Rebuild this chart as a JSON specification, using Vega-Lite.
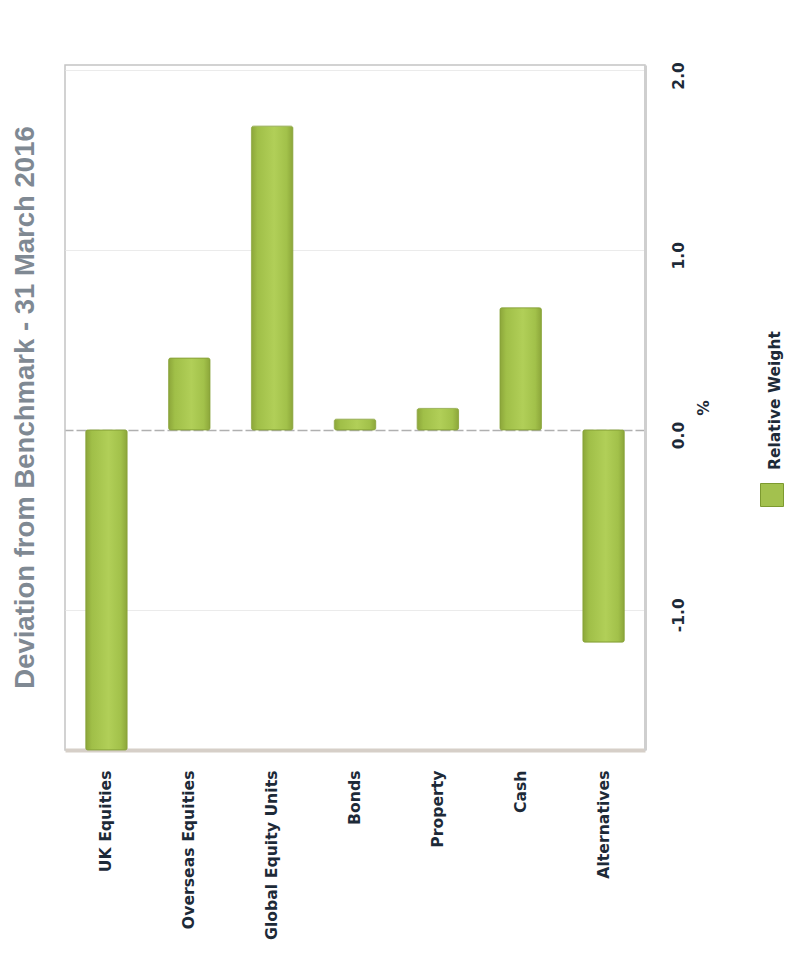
{
  "$schema": "https://vega.github.io/schema/vega-lite/v6.json",
  "width": 580,
  "height": 685,
  "autosize": {"type": "none"},
  "padding": {"left": 65, "top": 65, "right": 164, "bottom": 217},
  "background": "white",
  "title": {
    "text": "Deviation from Benchmark - 31 March 2016",
    "orient": "left",
    "anchor": "middle",
    "font": "Liberation Sans",
    "fontSize": 27.5,
    "fontWeight": "bold",
    "color": "#7f8993",
    "offset": 26
  },
  "data": {
    "values": [
      {"asset": "UK Equities", "weight": -1.78, "series": "Relative Weight"},
      {"asset": "Overseas Equities", "weight": 0.40, "series": "Relative Weight"},
      {"asset": "Global Equity Units", "weight": 1.69, "series": "Relative Weight"},
      {"asset": "Bonds", "weight": 0.06, "series": "Relative Weight"},
      {"asset": "Property", "weight": 0.12, "series": "Relative Weight"},
      {"asset": "Cash", "weight": 0.68, "series": "Relative Weight"},
      {"asset": "Alternatives", "weight": -1.18, "series": "Relative Weight"}
    ]
  },
  "encoding": {
    "x": {
      "field": "asset",
      "type": "nominal",
      "sort": null,
      "scale": {"paddingInner": 0.5, "paddingOuter": 0.25},
      "axis": {
        "orient": "bottom",
        "title": null,
        "labelAngle": -90,
        "labelAlign": "right",
        "labelBaseline": "middle",
        "labelPadding": 20,
        "labelFont": "DejaVu Sans",
        "labelFontWeight": "bold",
        "labelFontSize": 15.7,
        "labelColor": "#1d2a38",
        "labelLimit": 300,
        "ticks": false,
        "domainColor": "#d6cfc8",
        "domainWidth": 4,
        "grid": false
      }
    },
    "y": {
      "field": "weight",
      "type": "quantitative",
      "scale": {"domain": [-1.78, 2.03], "nice": false, "zero": false},
      "axis": {
        "orient": "right",
        "values": [-1, 0, 1, 2],
        "labelExpr": "datum.value < 0 ? '-' + format(-datum.value, '.1f') : format(datum.value, '.1f')",
        "title": "%",
        "labelAngle": -90,
        "labelAlign": "center",
        "labelBaseline": "top",
        "labelPadding": 26,
        "labelOffset": 5,
        "labelFlush": false,
        "labelOverlap": false,
        "labelBound": false,
        "labelFont": "DejaVu Sans",
        "labelFontWeight": "bold",
        "labelFontSize": 15.5,
        "labelColor": "#1d2a38",
        "ticks": false,
        "domainColor": "#cfcfcf",
        "domainWidth": 3,
        "grid": true,
        "gridColor": {"condition": {"test": "datum.value === 0", "value": "#b0b0b0"}, "value": "#ebebeb"},
        "gridDash": {"condition": {"test": "datum.value === 0", "value": [10, 3]}, "value": []},
        "gridWidth": {"condition": {"test": "datum.value === 0", "value": 1.5}, "value": 1},
        "titleAngle": -90,
        "titleAlign": "center",
        "titleBaseline": "top",
        "titlePadding": 10,
        "titleFont": "DejaVu Sans",
        "titleFontSize": 15.5,
        "titleFontWeight": "bold",
        "titleColor": "#1d2a38"
      }
    }
  },
  "layer": [
    {
      "mark": {
        "type": "bar",
        "stroke": "#89a33a",
        "strokeWidth": 0.8,
        "cornerRadius": 2,
        "color": {
          "gradient": "linear",
          "x1": 0, "y1": 0, "x2": 1, "y2": 0,
          "stops": [
            {"offset": 0, "color": "#8ca63a"},
            {"offset": 0.15, "color": "#a0bf48"},
            {"offset": 0.55, "color": "#b1cf58"},
            {"offset": 0.85, "color": "#a2c14a"},
            {"offset": 1, "color": "#8ca63a"}
          ]
        }
      }
    },
    {
      "mark": {"type": "bar", "opacity": 0},
      "encoding": {
        "color": {
          "field": "series",
          "type": "nominal",
          "scale": {"range": ["#a3c14e"]},
          "legend": {
            "orient": "none",
            "legendX": 695,
            "legendY": 418,
            "title": null,
            "padding": 0,
            "symbolType": "square",
            "symbolSize": 529,
            "symbolOpacity": 1,
            "symbolStrokeColor": "#7d9a30",
            "symbolStrokeWidth": 1,
            "labelOffset": 4,
            "labelFont": "DejaVu Sans",
            "labelFontWeight": "bold",
            "labelFontSize": 15.5,
            "labelColor": "#1d2a38",
            "encoding": {
              "labels": {
                "angle": {"value": -90},
                "dx": {"value": 25},
                "dy": {"value": -13}
              }
            }
          }
        }
      }
    }
  ],
  "config": {
    "view": {"stroke": "#c4c4c4", "strokeWidth": 1.5}
  }
}
